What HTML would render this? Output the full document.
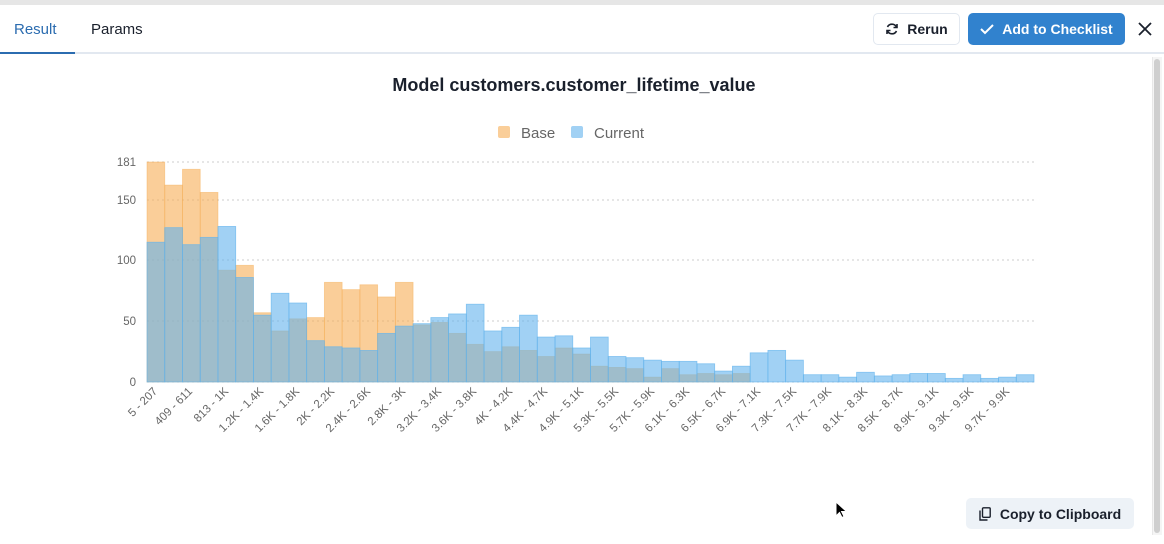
<!DOCTYPE html>
<html><head><meta charset="utf-8"><style>
*{box-sizing:border-box;margin:0;padding:0}
body{width:1164px;height:544px;background:#fff;font-family:"Liberation Sans",sans-serif;position:relative;overflow:hidden}
.top{position:absolute;left:0;top:0;width:1164px;height:5px;background:#e6e6e6}
.tabline{position:absolute;left:0;top:52px;width:1164px;height:2px;background:#e2e8f0}
.tabul{position:absolute;left:0;top:52px;width:75px;height:2px;background:#2b6cb0}
.tab{position:absolute;top:21px;font-size:15px}
.btn{position:absolute;top:13px;height:32px;border-radius:5px;font-size:14px;font-weight:bold;display:flex;align-items:center;justify-content:center}
.scroll{position:absolute;left:1152px;top:57px;width:10px;height:478px;background:#f5f5f5;border-left:1px solid #e8e8e8}
.thumb{position:absolute;left:1154px;top:59px;width:6px;height:474px;background:#cfcfcf;border-radius:3px}
</style></head><body>
<div class="top"></div>
<div class="tab" style="left:14px;color:#2b6cb0">Result</div>
<div class="tab" style="left:91px;color:#1a202c">Params</div>
<div class="tabline"></div><div class="tabul"></div>
<div class="btn" style="left:873px;width:87px;border:1px solid #e2e8f0;color:#1a202c"><svg width="14" height="14" viewBox="0 0 14 14" style="margin-right:8px"><path d="M11.5 5A5 5 0 0 0 2.5 5M2.5 9A5 5 0 0 0 11.5 9" stroke="#1a202c" stroke-width="1.6" fill="none"/><path d="M12 2v3.5h-3.5M2 12V8.5h3.5" stroke="#1a202c" stroke-width="1.6" fill="none"/></svg>Rerun</div>
<div class="btn" style="left:968px;width:157px;background:#3182ce;color:#fff"><svg width="14" height="12" viewBox="0 0 14 12" style="margin-right:8px"><path d="M1 6l4 4 8-8" stroke="#fff" stroke-width="2" fill="none"/></svg>Add to Checklist</div>
<svg style="position:absolute;left:1138px;top:22px" width="14" height="14"><path d="M1 1L13 13M13 1L1 13" stroke="#1a202c" stroke-width="1.8"/></svg>
<div class="scroll"></div><div class="thumb"></div>
<div class="btn" style="left:966px;top:498px;width:168px;height:31px;background:#edf2f7;color:#1a202c"><svg width="12" height="14" viewBox="0 0 12 14" style="margin-right:9px"><rect x="3.5" y="0.8" width="7.7" height="9.5" rx="1" stroke="#1a202c" stroke-width="1.4" fill="none"/><path d="M1 3.5v9.5h7.5" stroke="#1a202c" stroke-width="1.4" fill="none"/></svg>Copy to Clipboard</div>
<svg style="position:absolute;left:835px;top:501px" width="12" height="18"><path d="M1 1v14l3.5-3.5 2.5 5 2-1-2.5-5h5z" fill="#000" stroke="#fff" stroke-width="1"/></svg>
<svg id="ch" style="position:absolute;left:0;top:0" width="1150" height="500" font-family="Liberation Sans, sans-serif">
<text x="574" y="91" text-anchor="middle" font-size="18" font-weight="bold" fill="#1a202c">Model customers.customer_lifetime_value</text>
<rect x="498" y="126" width="12" height="12" rx="2" fill="rgba(246,173,85,0.6)"/>
<text x="521" y="138" font-size="15" fill="#666">Base</text>
<rect x="571" y="126" width="12" height="12" rx="2" fill="rgba(99,179,237,0.6)"/>
<text x="594" y="138" font-size="15" fill="#666">Current</text>
<g stroke="#ccc" stroke-dasharray="2,3" stroke-width="1">
<line x1="147" x2="1034" y1="162" y2="162"/><line x1="147" x2="1034" y1="200" y2="200"/><line x1="147" x2="1034" y1="260" y2="260"/><line x1="147" x2="1034" y1="321" y2="321"/><line x1="147" x2="1034" y1="382" y2="382"/>
</g>
<g font-size="11.5" fill="#666" text-anchor="end">
<text x="136" y="166">181</text><text x="136" y="204">150</text><text x="136" y="264">100</text><text x="136" y="325">50</text><text x="136" y="386">0</text>
</g>
<g id="bars"></g>
<g font-size="11.5" fill="#666" text-anchor="end" id="lbl">
<text transform="translate(158,392) rotate(-45)">5 - 207</text>
<text transform="translate(193,392) rotate(-45)">409 - 611</text>
<text transform="translate(229,392) rotate(-45)">813 - 1K</text>
<text transform="translate(264,392) rotate(-45)">1.2K - 1.4K</text>
<text transform="translate(300,392) rotate(-45)">1.6K - 1.8K</text>
<text transform="translate(335,392) rotate(-45)">2K - 2.2K</text>
<text transform="translate(371,392) rotate(-45)">2.4K - 2.6K</text>
<text transform="translate(406,392) rotate(-45)">2.8K - 3K</text>
<text transform="translate(442,392) rotate(-45)">3.2K - 3.4K</text>
<text transform="translate(477,392) rotate(-45)">3.6K - 3.8K</text>
<text transform="translate(513,392) rotate(-45)">4K - 4.2K</text>
<text transform="translate(548,392) rotate(-45)">4.4K - 4.7K</text>
<text transform="translate(584,392) rotate(-45)">4.9K - 5.1K</text>
<text transform="translate(619,392) rotate(-45)">5.3K - 5.5K</text>
<text transform="translate(655,392) rotate(-45)">5.7K - 5.9K</text>
<text transform="translate(690,392) rotate(-45)">6.1K - 6.3K</text>
<text transform="translate(726,392) rotate(-45)">6.5K - 6.7K</text>
<text transform="translate(761,392) rotate(-45)">6.9K - 7.1K</text>
<text transform="translate(797,392) rotate(-45)">7.3K - 7.5K</text>
<text transform="translate(832,392) rotate(-45)">7.7K - 7.9K</text>
<text transform="translate(868,392) rotate(-45)">8.1K - 8.3K</text>
<text transform="translate(903,392) rotate(-45)">8.5K - 8.7K</text>
<text transform="translate(939,392) rotate(-45)">8.9K - 9.1K</text>
<text transform="translate(974,392) rotate(-45)">9.3K - 9.5K</text>
<text transform="translate(1010,392) rotate(-45)">9.7K - 9.9K</text>
</g>
</svg>
<script>
var base=[181,162,175,156,92,96,57,42,52,53,82,76,80,70,82,47,49,40,31,25,29,26,21,28,23,13,12,11,4,11,6,7,6,7,0,0,0,0,0,0,0,0,0,0,0,0,0,0,0,0];
var cur=[115,127,113,119,128,86,55,73,65,34,29,28,26,40,46,48,53,56,64,42,45,55,37,38,28,37,21,20,18,17,17,15,9,13,24,26,18,6,6,4,8,5,6,7,7,3,6,3,4,6];
var w=887/50,s='',k=220/181;
function bar(v,i,fill,st){if(!v)return '';var h=v*k;return '<rect x="'+(147+i*w).toFixed(2)+'" y="'+(382-h).toFixed(2)+'" width="'+w.toFixed(2)+'" height="'+h.toFixed(2)+'" fill="'+fill+'" stroke="'+st+'" stroke-width="0.8"/>';}
for(var i=0;i<50;i++)s+=bar(base[i],i,'rgba(246,173,85,0.6)','rgba(246,173,85,0.5)');
for(var i=0;i<50;i++)s+=bar(cur[i],i,'rgba(99,179,237,0.6)','rgba(99,179,237,0.7)');
document.getElementById('bars').innerHTML=s;
</script>
</body></html>
